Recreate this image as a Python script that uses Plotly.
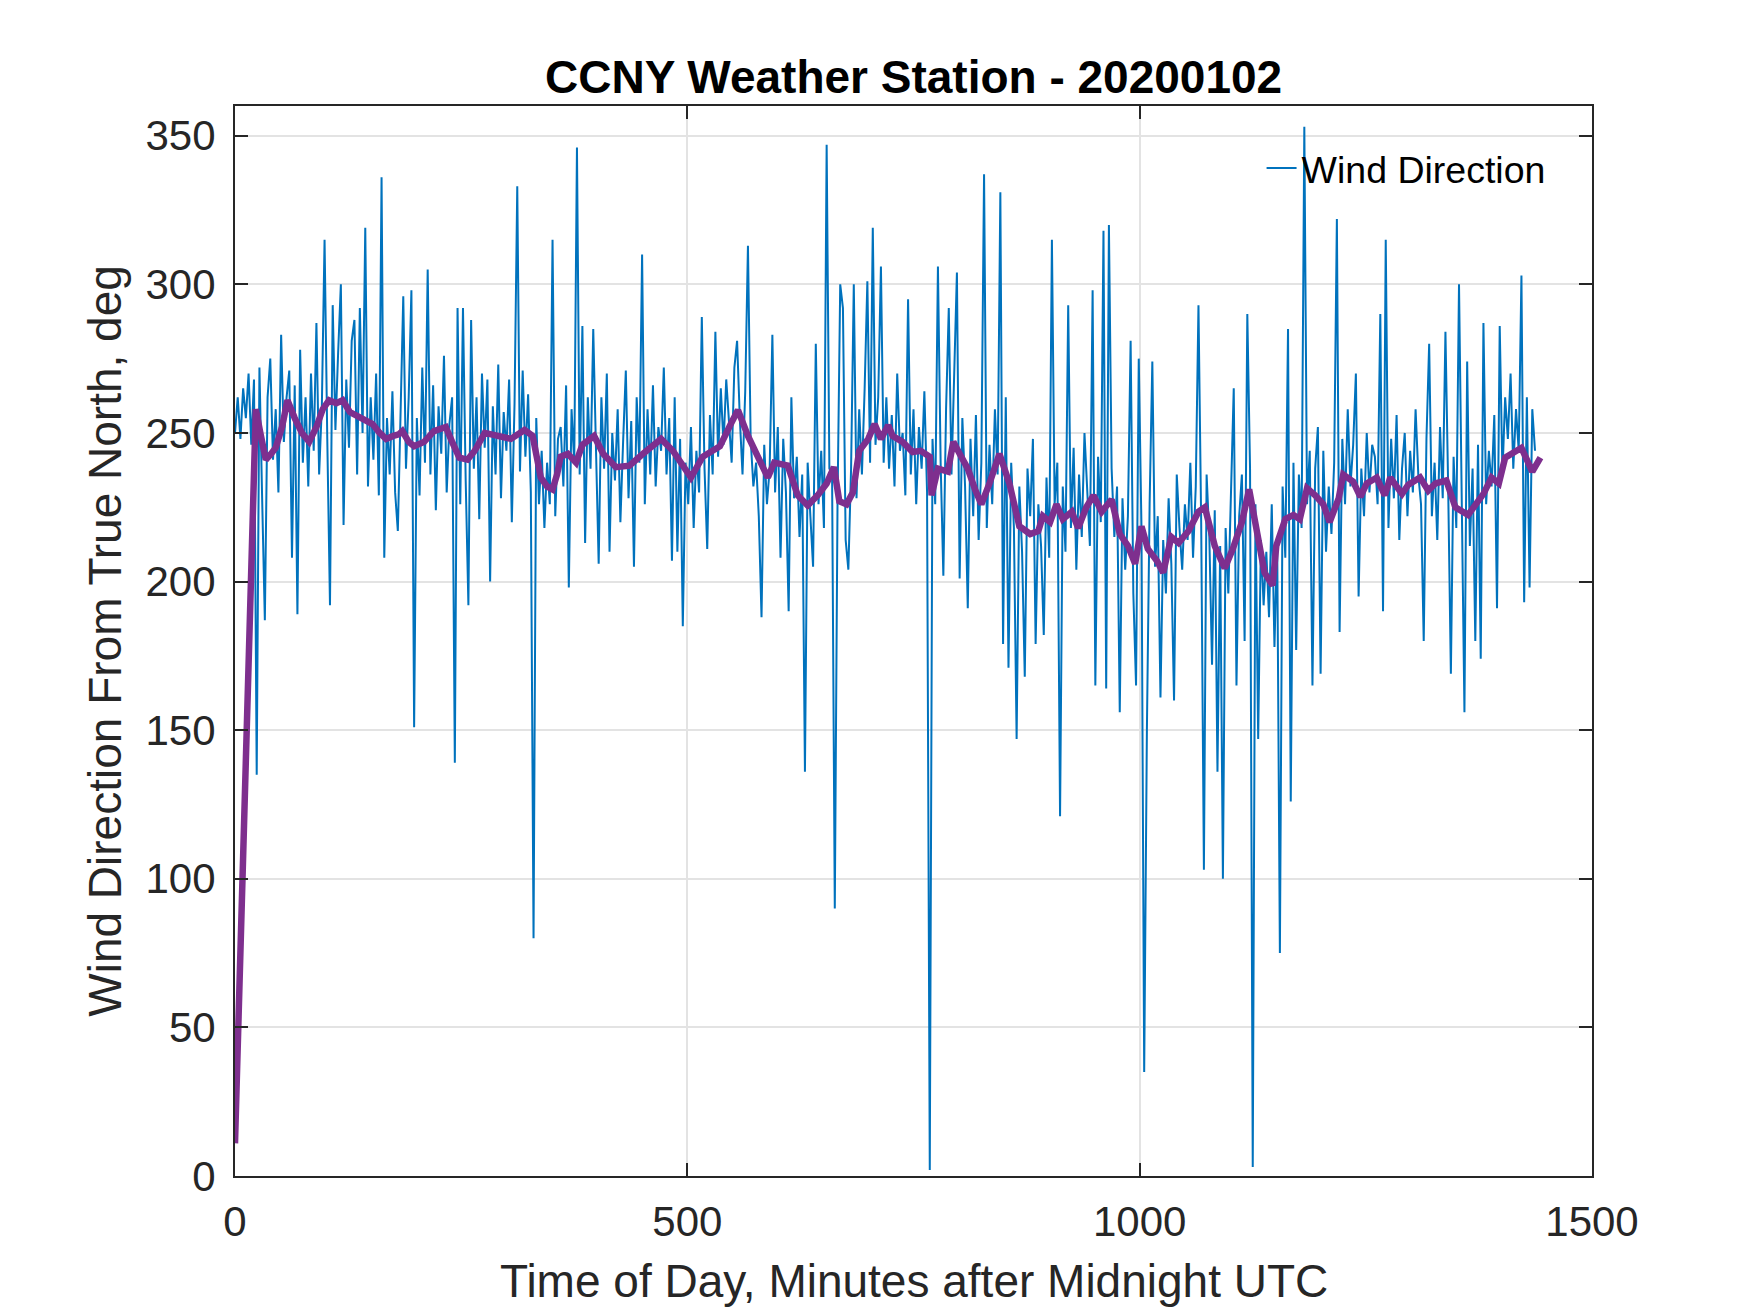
import plotly.graph_objects as go

# wind direction samples, one every 3 minutes (deg from true north)
minutes = list(range(0, 1440, 3))
wind_dir = [
    250, 262, 248, 265, 255, 270, 246, 268, 135, 272, 228, 187, 262, 275, 241, 258, 230, 283, 247, 262,
    271, 208, 266, 189, 278, 240, 262, 232, 270, 244, 287, 236, 259, 315, 248, 192, 293, 251, 277, 300,
    219, 268, 245, 281, 288, 236, 292, 250, 319, 232, 262, 241, 270, 229, 336, 208, 255, 236, 264, 230,
    217, 258, 296, 238, 262, 298, 151, 255, 229, 272, 240, 305, 236, 266, 224, 259, 243, 276, 230, 253,
    262, 139, 292, 226, 292, 234, 192, 288, 238, 262, 221, 270, 245, 268, 200, 259, 236, 273, 228, 257,
    244, 268, 220, 260, 333, 237, 271, 242, 263, 230, 80, 255, 226, 244, 218, 240, 226, 315, 222, 248,
    252, 232, 266, 198, 258, 240, 346, 236, 286, 213, 262, 238, 285, 245, 206, 262, 238, 270, 210, 250,
    234, 258, 220, 247, 271, 228, 254, 205, 262, 240, 310, 226, 258, 236, 266, 232, 252, 244, 272, 236,
    255, 207, 262, 210, 248, 185, 240, 226, 252, 218, 244, 230, 289, 238, 211, 256, 236, 284, 242, 265,
    246, 268, 252, 240, 272, 281, 255, 236, 264, 313, 248, 232, 240, 222, 188, 246, 226, 238, 283, 230,
    252, 208, 248, 230, 190, 262, 228, 242, 215, 236, 136, 240, 222, 205, 280, 226, 244, 218, 347, 238,
    236, 90, 226, 300, 292, 214, 204, 238, 300, 228, 258, 236, 265, 301, 240, 319, 246, 262, 306, 240,
    262, 238, 256, 232, 270, 244, 250, 229, 295, 236, 258, 226, 252, 238, 264, 230, 2, 248, 226, 306,
    240, 202, 258, 292, 236, 268, 304, 201, 255, 232, 191, 248, 222, 256, 214, 240, 337, 218, 246, 226,
    258, 236, 331, 179, 262, 171, 240, 218, 147, 232, 210, 168, 238, 222, 248, 179, 226, 212, 182, 235,
    208, 315, 226, 240, 121, 232, 210, 293, 218, 245, 204, 236, 215, 250, 228, 212, 298, 165, 242, 220,
    318, 164, 320, 238, 215, 232, 156, 228, 204, 222, 281, 196, 165, 275, 218, 35, 150, 226, 274, 205,
    222, 161, 214, 196, 228, 206, 160, 236, 218, 204, 226, 214, 240, 208, 232, 293, 220, 103, 236, 215,
    172, 224, 136, 212, 100, 218, 196, 230, 265, 165, 222, 236, 180, 290, 238, 3, 226, 147, 214, 192,
    210, 188, 226, 178, 214, 75, 232, 208, 285, 126, 240, 177, 236, 218, 353, 226, 244, 165, 238, 252,
    169, 244, 210, 232, 216, 240, 322, 183, 248, 226, 258, 232, 246, 270, 195, 238, 222, 250, 230, 246,
    242, 226, 290, 190, 315, 218, 248, 228, 256, 214, 238, 250, 222, 244, 230, 258, 236, 226, 180, 248,
    280, 222, 240, 214, 252, 228, 284, 232, 169, 242, 218, 300, 226, 156, 274, 212, 238, 180, 246, 174,
    287, 226, 244, 232, 256, 191, 286, 236, 262, 248, 270, 238, 258, 244, 303, 193, 262, 198, 258, 244,
]

# running mean
avg_min = [0, 23, 28, 34, 40, 45, 52, 58, 66, 74, 82, 90, 97, 104, 112, 119, 127, 134, 145, 152,
           160, 167, 175, 181, 185, 192, 198, 209, 220, 233, 240, 248, 257, 265, 276, 290, 305, 320, 329, 338,
           345, 351, 356, 360, 368, 377, 384, 397, 407, 421, 436, 451, 471, 484, 495, 504, 517, 536, 548, 556,
           567, 582, 589, 596, 611, 622, 633, 644, 654, 662, 668, 676, 683, 690, 700, 707, 714, 722, 727, 738,
           749, 758, 768, 770, 777, 788, 794, 801, 810, 818, 825, 834, 845, 856, 867, 879, 888, 893, 901, 908,
           915, 925, 932, 941, 949, 958, 969, 978, 987, 995, 1002, 1009, 1019, 1026, 1035, 1043, 1054, 1065, 1072, 1083,
           1094, 1103, 1113, 1121, 1129, 1138, 1147, 1151, 1161, 1170, 1177, 1185, 1194, 1203, 1210, 1220, 1225, 1236, 1244, 1251,
           1262, 1271, 1277, 1290, 1297, 1310, 1319, 1327, 1339, 1349, 1363, 1371, 1380, 1389, 1397, 1404, 1411, 1422, 1434, 1443]
avg_dir = [11, 258, 250, 241, 243, 245, 252, 261, 255, 250, 247, 252, 258, 261, 260, 261, 257, 256, 254.5, 253,
           250, 248, 249, 249.5, 250.6, 247, 245.5, 247, 250.6, 252, 247, 241.7, 241, 244, 250, 249, 248, 251, 249, 235,
           232, 231, 236, 242, 243, 240, 246, 249, 243, 238.5, 239, 243, 248, 244, 239, 235, 242, 245.5, 253, 257.7,
           249, 239, 235, 240, 239, 229, 225.6, 229, 233, 238.5, 227, 226, 230, 244, 248, 253, 248, 252.6, 249, 247,
           243.6, 244, 242, 229, 238, 237, 247, 243, 238, 231, 226, 233, 243, 233, 218.6, 216, 217, 222, 220, 226,
           221, 223.5, 218, 225, 229, 223.5, 227.6, 216, 212, 206, 218.6, 211, 207, 203, 215, 213, 217, 223.5, 225, 212,
           204.5, 211, 220, 231, 217, 203, 198.7, 212, 221, 222.4, 221, 231.4, 229, 226, 220, 228, 236, 233.6, 228.5, 233,
           235, 229, 235, 229.5, 232.6, 235, 230.6, 233, 234, 225, 222.4, 226, 229.5, 235, 233, 241.7, 243, 245, 237, 241.7]

x_ticks = [0, 500, 1000, 1500]
y_ticks = [0, 50, 100, 150, 200, 250, 300, 350]

font = 'Liberation Sans, Arial, Helvetica, sans-serif'
dark = '#262626'

fig = go.Figure()
fig.add_trace(go.Scatter(x=minutes, y=wind_dir, mode='lines', name='Wind Direction',
                         line=dict(color='#0072BD', width=2)))
fig.add_trace(go.Scatter(x=avg_min, y=avg_dir, mode='lines', showlegend=False,
                         line=dict(color='#7E2F8E', width=6.5)))

axis_common = dict(showline=True, linecolor=dark, linewidth=2, mirror='allticks',
                   ticks='inside', ticklen=13, tickwidth=2, tickcolor=dark,
                   showgrid=True, gridcolor='#E3E3E3', gridwidth=1.5, zeroline=False,
                   tickfont=dict(family=font, size=42, color=dark))

fig.update_xaxes(range=[0, 1500], tickvals=x_ticks, ticklabelstandoff=8, **axis_common)
fig.update_yaxes(range=[0, 360], tickvals=y_ticks, ticklabelstandoff=9, **axis_common)

fig.update_layout(
    width=1750, height=1313,
    margin=dict(l=227, r=166, t=98, b=145),
    paper_bgcolor='white', plot_bgcolor='white',
    title=dict(text='<b>CCNY Weather Station - 20200102</b>', x=0.5175, xanchor='center',
               y=1 - 69 / 1313, yanchor='middle', yref='container',
               font=dict(family=font, size=46, color='black')),
    legend=dict(x=0.7565, y=0.942, xanchor='left', yanchor='middle', bgcolor='rgba(0,0,0,0)',
                font=dict(family=font, size=37.5, color='black')),
    annotations=[
        dict(text='Time of Day, Minutes after Midnight UTC', xref='paper', yref='paper',
             x=0.5, y=-0.098, xanchor='center', yanchor='middle', showarrow=False,
             font=dict(family=font, size=46, color=dark)),
        dict(text='Wind Direction From True North, deg', xref='paper', yref='paper',
             x=-0.096, y=0.5, xanchor='center', yanchor='middle', showarrow=False, textangle=-90,
             font=dict(family=font, size=46, color=dark)),
    ],
)

fig.write_html('out.html')
